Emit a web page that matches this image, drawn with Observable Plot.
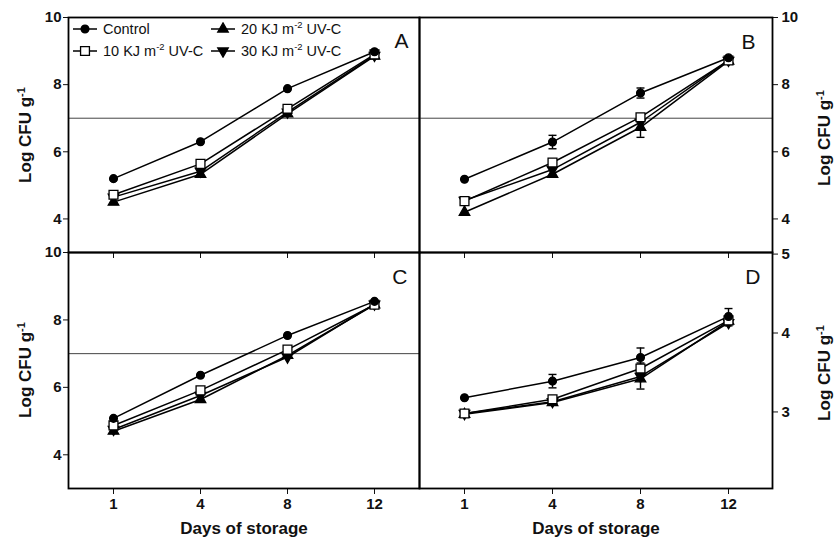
<!DOCTYPE html>
<html>
<head>
<meta charset="utf-8">
<script src="https://cdn.jsdelivr.net/npm/d3@7"></script>
<script src="https://cdn.jsdelivr.net/npm/@observablehq/plot@0.6"></script>
<style>
  body { margin: 0; background: #fff; font-family: "Liberation Sans", Arial, sans-serif; }
  #chart { position: relative; width: 838px; height: 540px; overflow: hidden; background: #fff; }
  #chart svg.panel { position: absolute; left: 0; top: 0; }
  .ylab { position: absolute; font-weight: bold; font-size: 17px; line-height: 1.15; white-space: nowrap; color: #111;
          transform: translate(-50%, -50%) rotate(-90deg); }
  .ylab sup, .legend sup { font-size: 0.65em; vertical-align: 0.6em; line-height: 0; }
  .legend { position: absolute; left: 72px; top: 18px; display: grid; grid-template-columns: 138px auto;
            grid-auto-rows: 22px; font-size: 14.5px; color: #111; }
  .legend .item { display: flex; align-items: center; gap: 5px; white-space: nowrap; }
  .legend svg { display: block; }
</style>
</head>
<body>
<div id="chart"></div>
<script>
// ---------- data ----------
const days = [1, 4, 8, 12];
const seriesNames = ["Control", "10 KJ m-2 UV-C", "20 KJ m-2 UV-C", "30 KJ m-2 UV-C"];

// Panel A
const aControl = [5.20, 6.30, 7.88, 8.98];
const aUv10    = [4.72, 5.64, 7.28, 8.90];
const aUv20    = [4.50, 5.33, 7.13, 8.85];
const aUv30    = [4.65, 5.42, 7.18, 8.87];

// Panel B
const bControl = [5.18, 6.29, 7.75, 8.80];
const bUv10    = [4.53, 5.68, 7.03, 8.72];
const bUv20    = [4.20, 5.33, 6.73, 8.70];
const bUv30    = [4.55, 5.47, 6.88, 8.72];
const bErrControl = [0, 0.20, 0.15, 0];
const bErrUv20    = [0, 0, 0.30, 0];

// Panel C
const cControl = [5.08, 6.36, 7.54, 8.55];
const cUv10    = [4.87, 5.91, 7.12, 8.45];
const cUv20    = [4.70, 5.64, 6.95, 8.45];
const cUv30    = [4.75, 5.76, 6.90, 8.47];

// Panel D
const dControl = [3.18, 3.39, 3.69, 4.21];
const dUv10    = [2.98, 3.16, 3.55, 4.16];
const dUv20    = [2.97, 3.12, 3.42, 4.15];
const dUv30    = [2.98, 3.13, 3.45, 4.13];
const dErrControl = [0, 0.085, 0.12, 0.10];
const dErrUv10    = [0, 0, 0.07, 0];
const dErrUv20    = [0, 0, 0.13, 0.06];

const threshold = 7;

// ---------- helpers ----------
const triDown = {
  draw(context, size) {
    const y = -Math.sqrt(size / (Math.sqrt(3) * 3));
    context.moveTo(0, -y * 2);
    context.lineTo(-Math.sqrt(3) * y, y);
    context.lineTo(Math.sqrt(3) * y, y);
    context.closePath();
  }
};
const capSymbol = {
  draw(context) {
    context.moveTo(-4, 0);
    context.lineTo(4, 0);
  }
};
const symbols = {
  "Control": {symbol: "circle", fill: "black", r: 3.9},
  "10 KJ m-2 UV-C": {symbol: "square", fill: "white", r: 5.0},
  "20 KJ m-2 UV-C": {symbol: "triangle", fill: "black", r: 3.9},
  "30 KJ m-2 UV-C": {symbol: triDown, fill: "black", r: 3.9}
};

function rowsOf(list, errs = []) {
  const rows = [];
  list.forEach((vals, si) => {
    vals.forEach((v, i) => rows.push({series: seriesNames[si], day: days[i], v, e: (errs[si] || [])[i] || 0}));
  });
  return rows;
}

const chart = document.getElementById("chart");
const font = "'Liberation Sans', Arial, sans-serif";

function panel({rows, yDomain, yTicks, m, yAnchor, xLabels, showThreshold, letter, ldx, ldy}) {
  const drawOrder = ["20 KJ m-2 UV-C", "30 KJ m-2 UV-C", "10 KJ m-2 UV-C", "Control"];
  const errRows = rows.filter(d => d.e > 0);
  const marks = [];
  if (showThreshold) marks.push(Plot.ruleY([threshold], {stroke: "#444", strokeWidth: 1}));
  marks.push(Plot.axisY({anchor: yAnchor, ticks: yTicks, tickSize: 5, tickPadding: yAnchor === "left" ? 2 : 4,
                         tickFormat: d => String(d), label: null, fontSize: 15, fontWeight: "bold", fill: "#111"}));
  marks.push(Plot.axisX({anchor: "bottom", ticks: days, tickSize: 6, tickPadding: 4, label: null,
                         tickFormat: xLabels ? d => String(d) : () => "", fontSize: 15, fontWeight: "bold", fill: "#111"}));
  marks.push(Plot.ruleX(errRows, {x: "day", y1: d => d.v - d.e, y2: d => d.v + d.e, stroke: "black", strokeWidth: 1.4}));
  marks.push(Plot.dot(errRows, {x: "day", y: d => d.v + d.e, symbol: () => capSymbol, fill: "none", stroke: "black", strokeWidth: 1.4}));
  marks.push(Plot.dot(errRows, {x: "day", y: d => d.v - d.e, symbol: () => capSymbol, fill: "none", stroke: "black", strokeWidth: 1.4}));
  marks.push(Plot.line(rows, {x: "day", y: "v", z: "series", stroke: "black", strokeWidth: 1.5}));
  for (const s of drawOrder) {
    const st = symbols[s];
    marks.push(Plot.dot(rows.filter(d => d.series === s), {x: "day", y: "v", symbol: () => st.symbol, r: st.r, fill: st.fill, stroke: "black", strokeWidth: 1.3}));
  }
  marks.push(Plot.text([letter], {frameAnchor: "top-right", dx: ldx, dy: ldy, lineAnchor: "top", textAnchor: "end", fontSize: 21, fontWeight: "normal", fill: "#111"}));
  if (xLabels) marks.push(Plot.text(["Days of storage"], {frameAnchor: "bottom", dy: 40, lineAnchor: "middle", fontSize: 17, fontWeight: "bold", fill: "#111"}));
  marks.push(Plot.frame({stroke: "black", strokeWidth: 1.8}));

  const svg = Plot.plot({
    width: 838, height: 540,
    marginLeft: m[0], marginRight: m[1], marginTop: m[2], marginBottom: m[3],
    style: {background: "transparent", fontFamily: font, color: "#111", overflow: "visible"},
    x: {type: "point", domain: days, padding: 0.5},
    y: {domain: yDomain},
    marks
  });
  svg.classList.add("panel");
  chart.appendChild(svg);
}

panel({rows: rowsOf([aControl, aUv10, aUv20, aUv30]), yDomain: [3, 10], yTicks: [4, 6, 8, 10],
       m: [68, 419, 17, 288], yAnchor: "left", xLabels: false, showThreshold: true, letter: "A", ldx: -11, ldy: 16});
panel({rows: rowsOf([bControl, bUv10, bUv20, bUv30], [bErrControl, [], bErrUv20, []]), yDomain: [3, 10], yTicks: [4, 6, 8, 10],
       m: [419, 66, 17, 288], yAnchor: "right", xLabels: false, showThreshold: true, letter: "B", ldx: -17, ldy: 17});
panel({rows: rowsOf([cControl, cUv10, cUv20, cUv30]), yDomain: [3, 10], yTicks: [4, 6, 8, 10],
       m: [68, 419, 252, 52], yAnchor: "left", xLabels: true, showThreshold: true, letter: "C", ldx: -12, ldy: 17});
panel({rows: rowsOf([dControl, dUv10, dUv20, dUv30], [dErrControl, dErrUv10, dErrUv20, []]), yDomain: [2.03, 5.02], yTicks: [3, 4, 5],
       m: [419, 66, 252, 52], yAnchor: "right", xLabels: true, showThreshold: false, letter: "D", ldx: -12, ldy: 17});

// y-axis titles
const ylabPos = [[26, 135], [26, 370], [825, 138], [825, 373]];
for (const [x, y] of ylabPos) {
  const div = document.createElement("div");
  div.className = "ylab";
  div.style.left = x + "px";
  div.style.top = y + "px";
  div.innerHTML = "Log CFU g<sup>-1</sup>";
  chart.appendChild(div);
}

// legend
const legend = document.createElement("div");
legend.className = "legend";
const legendOrder = ["Control", "20 KJ m-2 UV-C", "10 KJ m-2 UV-C", "30 KJ m-2 UV-C"];
for (const s of legendOrder) {
  const st = symbols[s];
  const item = document.createElement("div");
  item.className = "item";
  const sv = d3.create("svg").attr("width", 26).attr("height", 14);
  sv.append("line").attr("x1", 1).attr("x2", 25).attr("y1", 7).attr("y2", 7).attr("stroke", "black").attr("stroke-width", 1.5);
  const type = st.symbol === "circle" ? d3.symbolCircle : st.symbol === "square" ? d3.symbolSquare : st.symbol === "triangle" ? d3.symbolTriangle : triDown;
  sv.append("path").attr("transform", "translate(13,7)").attr("d", d3.symbol(type, Math.PI * st.r * st.r)())
    .attr("fill", st.fill).attr("stroke", "black").attr("stroke-width", 1.3);
  item.appendChild(sv.node());
  const label = document.createElement("span");
  label.innerHTML = s === "Control" ? "Control" : s.replace("m-2", "m<sup>-2</sup>");
  item.appendChild(label);
  legend.appendChild(item);
}
chart.appendChild(legend);
</script>
</body>
</html>
